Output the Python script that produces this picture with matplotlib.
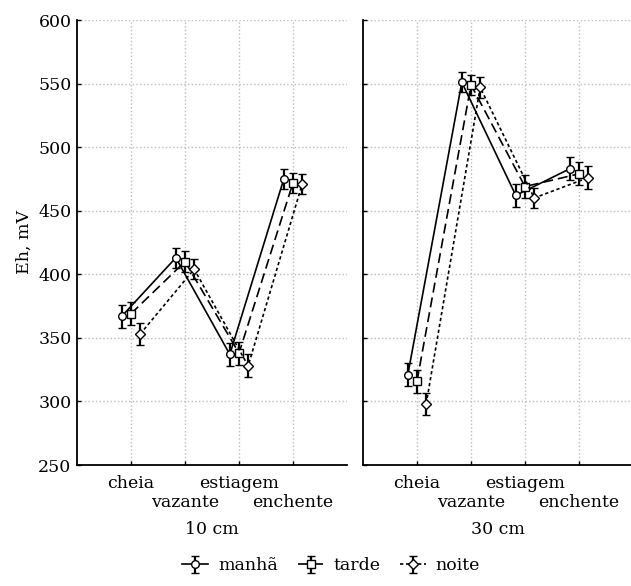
import numpy as np
import matplotlib
matplotlib.use('Agg')
import matplotlib.pyplot as plt

plt.rcParams['font.family'] = 'DejaVu Serif'
plt.rcParams['font.size'] = 12.5

# Data (Eh in mV, mean and error half-width).
periods = ['cheia', 'vazante', 'estiagem', 'enchente']
depths = ['10 cm', '30 cm']
series = ['manhã', 'tarde', 'noite']

eh_10cm = {
   'manhã': [367, 413, 337, 475],
   'tarde': [369, 410, 338, 472],
   'noite': [353, 404, 328, 471],
}
err_10cm = {
   'manhã': [9, 8, 9, 8],
   'tarde': [9, 8, 9, 8],
   'noite': [9, 8, 9, 8],
}
eh_30cm = {
   'manhã': [321, 551, 462, 483],
   'tarde': [316, 549, 469, 479],
   'noite': [298, 547, 460, 476],
}
err_30cm = {
   'manhã': [9, 8, 9, 9],
   'tarde': [9, 8, 9, 9],
   'noite': [9, 8, 8, 9],
}

styles = {
   'manhã': dict(marker='o', linestyle='-', ms=5.5),
   'tarde': dict(marker='s', linestyle=(0, (6, 3)), ms=5.5),
   'noite': dict(marker='D', linestyle=(0, (2, 1.6)), ms=5.5),
}
offsets = {'manhã': -0.17, 'tarde': 0.0, 'noite': 0.17}

fig = plt.figure(figsize=(6.31, 5.86), dpi=100)
axL = fig.add_axes([77/631, 121/586, 270/631, 445/586])
axR = fig.add_axes([363/631, 121/586, 270/631, 445/586])

xpos = np.arange(1, len(periods) + 1)
handles = []
for ax, data, errs, depth in [(axL, eh_10cm, err_10cm, depths[0]),
                              (axR, eh_30cm, err_30cm, depths[1])]:
   for name in series:
      st = styles[name]
      h = ax.errorbar(xpos + offsets[name], data[name], yerr=errs[name],
                      marker=st['marker'], linestyle=st['linestyle'],
                      color='black', linewidth=1.2, markersize=st['ms'],
                      markerfacecolor='white', markeredgecolor='black',
                      markeredgewidth=1.0, ecolor='black', elinewidth=1.6,
                      capsize=3.2, capthick=1.6, label=name, zorder=3)
      if ax is axL:
         handles.append(h)
   ax.set_xlim(0, 5)
   ax.set_ylim(250, 600)
   ax.set_yticks(np.arange(250, 601, 50))
   # staggered category labels: odd ones on the first row, even ones below
   ax.set_xticks(xpos[0::2])
   ax.set_xticklabels(periods[0::2])
   ax.set_xticks(xpos[1::2], minor=True)
   ax.set_xticklabels(periods[1::2], minor=True)
   ax.set_xlabel(depth, labelpad=7)
   ax.grid(True, which='both', axis='x', color='#bdbdbd', linestyle=':', linewidth=1.0, zorder=0)
   ax.grid(True, which='major', axis='y', color='#bdbdbd', linestyle=':', linewidth=1.0, zorder=0)
   ax.spines['top'].set_visible(False)
   ax.spines['right'].set_visible(False)
   ax.spines['left'].set_linewidth(1.3)
   ax.spines['bottom'].set_linewidth(1.3)
   ax.tick_params(which='both', direction='in', length=3, width=1)
   ax.tick_params(axis='x', which='major', pad=7)
   ax.tick_params(axis='x', which='minor', pad=21)
   ax.tick_params(axis='y', pad=4)

axR.tick_params(labelleft=False)
axL.set_ylabel('Eh, mV', labelpad=4)

fig.legend(handles=handles, labels=series, loc='center', ncol=3,
           bbox_to_anchor=(0.525, 1 - 566/586), frameon=False,
           handlelength=1.5, handletextpad=0.55, columnspacing=1.15)

plt.savefig('out.png', dpi=100)
plt.clf()
